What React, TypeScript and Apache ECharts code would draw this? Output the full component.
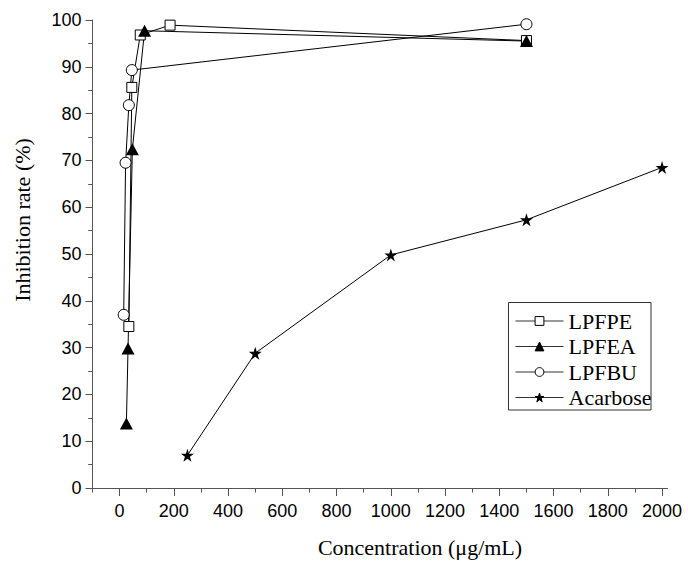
import React, { useEffect, useRef } from "react";
import * as echarts from "echarts";

const seriesNames = ["LPFPE", "LPFEA", "LPFBU", "Acarbose"];
const lpfpeX = [34, 45, 76, 186, 1500];
const lpfpeY = [34.5, 85.6, 96.8, 98.9, 95.6];
const lpfeaX = [25, 31, 47, 92, 1500];
const lpfeaY = [13.8, 29.8, 72.4, 97.7, 95.5];
const lpfbuX = [15, 22, 34, 45, 1500];
const lpfbuY = [37.0, 69.5, 81.8, 89.3, 99.1];
const acarboseX = [250, 500, 1000, 1500, 2000];
const acarboseY = [7.0, 28.8, 49.8, 57.3, 68.5];
const xMajorTicks = [0, 200, 400, 600, 800, 1000, 1200, 1400, 1600, 1800, 2000];
const xMinorTicks = [-100, 100, 300, 500, 700, 900, 1100, 1300, 1500, 1700, 1900];

const STAR =
  "path://M0,-50 L11.2,-15.5 L47.6,-15.5 L18.2,5.9 L29.4,40.5 L0,19.1 L-29.4,40.5 L-18.2,5.9 L-47.6,-15.5 L-11.2,-15.5 Z";

const pairs = (xs: number[], ys: number[]) => xs.map((x, i) => [x, ys[i]]);

const AXIS_COLOR = "#555";
const SANS = "Liberation Sans";
const SERIF = "Liberation Serif";

export default function App() {
  const ref = useRef<HTMLDivElement>(null);
  useEffect(() => {
    if (!ref.current) return;
    const chart = echarts.init(ref.current, undefined, { renderer: "svg" });
    const lineBase = {
      type: "line",
      xAxisIndex: 0,
      yAxisIndex: 0,
      lineStyle: { color: "#000", width: 1 },
      emphasis: { disabled: true },
    };
    chart.setOption({
      animation: false,
      backgroundColor: "#fff",
      grid: {
        left: 92.5,
        right: 20.5,
        top: 20,
        bottom: 75,
        containLabel: false,
        outerBoundsMode: "none",
      },
      legend: {
        orient: "vertical",
        left: 515,
        top: 310,
        padding: 0,
        itemWidth: 48,
        itemHeight: 11,
        itemGap: 3.5,
        data: seriesNames,
        lineStyle: { width: 1, color: "#333" },
        itemStyle: { borderWidth: 1 },
        textStyle: {
          fontFamily: SERIF,
          fontSize: 22,
          lineHeight: 22,
          color: "#000",
        },
      },
      xAxis: [
        {
          type: "value",
          min: -100,
          max: 2020,
          position: "bottom",
          splitLine: { show: false },
          axisLine: { show: true, onZero: false, lineStyle: { color: AXIS_COLOR, width: 1 } },
          axisTick: {
            show: true,
            inside: false,
            length: 8,
            customValues: xMajorTicks,
            lineStyle: { color: AXIS_COLOR, width: 1 },
          },
          axisLabel: {
            customValues: xMajorTicks,
            formatter: (v: number) => String(v),
            margin: 14,
            fontFamily: SANS,
            fontSize: 18,
            color: "#000",
          },
        },
        {
          type: "value",
          min: -100,
          max: 2020,
          position: "bottom",
          splitLine: { show: false },
          axisLine: { show: false, onZero: false },
          axisTick: {
            show: true,
            inside: false,
            length: 4.5,
            customValues: xMinorTicks,
            lineStyle: { color: AXIS_COLOR, width: 1 },
          },
          axisLabel: { show: false },
        },
      ],
      yAxis: {
        type: "value",
        min: 0,
        max: 100,
        interval: 10,
        splitLine: { show: false },
        axisLine: { show: true, onZero: false, lineStyle: { color: AXIS_COLOR, width: 1 } },
        axisTick: { show: true, inside: false, length: 7, lineStyle: { color: AXIS_COLOR, width: 1 } },
        minorTick: { show: true, splitNumber: 2, length: 4.3, lineStyle: { color: AXIS_COLOR, width: 1 } },
        axisLabel: {
          margin: 11,
          fontFamily: SANS,
          fontSize: 18,
          color: "#000",
        },
      },
      graphic: [
        {
          type: "text",
          x: 22,
          y: 220,
          rotation: Math.PI / 2,
          style: {
            text: "Inhibition rate (%)",
            fontFamily: SERIF,
            fontSize: 22,
            fill: "#000",
            align: "center",
            verticalAlign: "middle",
          },
        },
        {
          type: "text",
          x: 420,
          y: 547,
          style: {
            text: "Concentration (μg/mL)",
            fontFamily: SERIF,
            fontSize: 22,
            fill: "#000",
            align: "center",
            verticalAlign: "middle",
          },
        },
        {
          type: "rect",
          shape: { x: 508.5, y: 302.5, width: 142.5, height: 107.5 },
          style: { fill: "none", stroke: "#333", lineWidth: 1 },
          z: 10,
        },
      ],
      series: [
        {
          ...lineBase,
          name: "LPFPE",
          data: pairs(lpfpeX, lpfpeY),
          symbol: "rect",
          symbolSize: 10,
          itemStyle: { color: "#fff", borderColor: "#000", borderWidth: 1 },
        },
        {
          ...lineBase,
          name: "LPFEA",
          data: pairs(lpfeaX, lpfeaY),
          symbol: "triangle",
          symbolSize: [13, 12],
          itemStyle: { color: "#000", borderColor: "#000", borderWidth: 0 },
        },
        {
          ...lineBase,
          name: "LPFBU",
          data: pairs(lpfbuX, lpfbuY),
          symbol: "circle",
          symbolSize: 11,
          itemStyle: { color: "#fff", borderColor: "#000", borderWidth: 1 },
        },
        {
          ...lineBase,
          name: "Acarbose",
          data: pairs(acarboseX, acarboseY),
          symbol: STAR,
          symbolSize: 13,
          itemStyle: { color: "#000", borderColor: "#000", borderWidth: 0 },
        },
      ],
    });
    return () => chart.dispose();
  }, []);
  return <div ref={ref} style={{ width: 688, height: 563, position: "absolute", left: 0, top: 0 }} />;
}
